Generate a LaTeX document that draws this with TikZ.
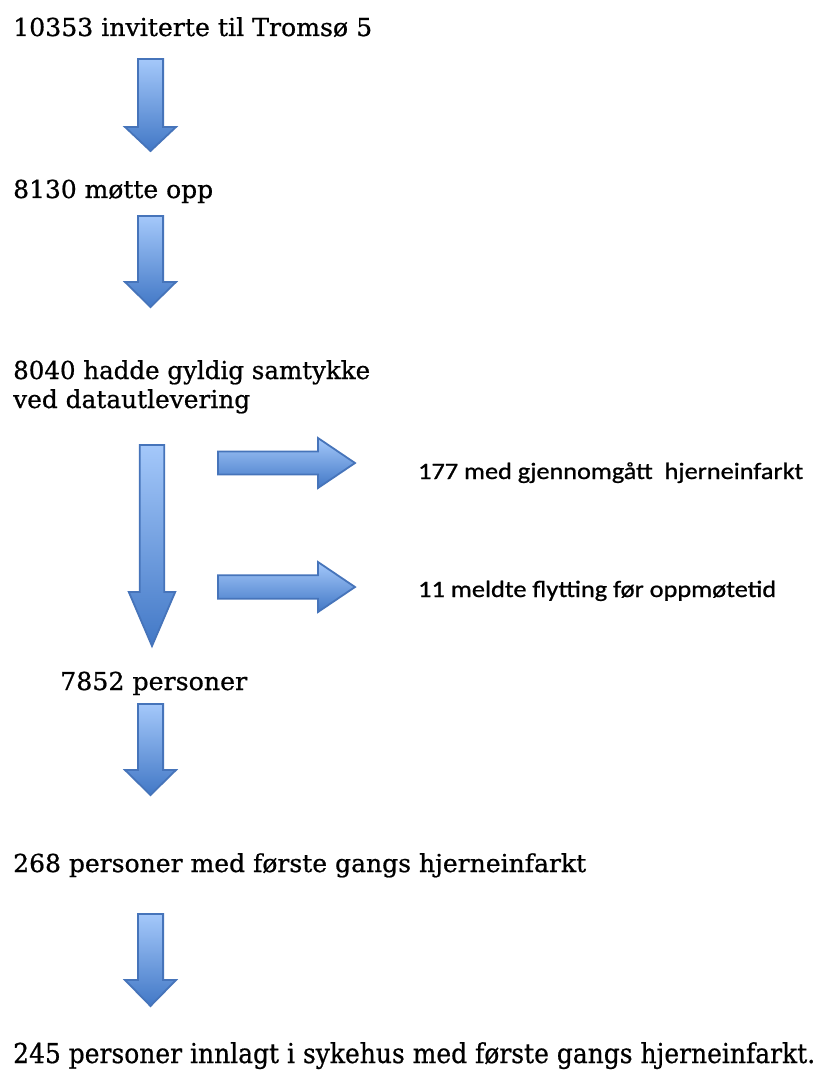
\documentclass[tikz,border=0pt]{standalone}
\usepackage{fontspec}
\setmainfont{DejaVu Serif}[FakeBold=0.7]
\newfontfamily\calfont{Carlito}[FakeBold=0.8]
\usepackage{graphicx}
\definecolor{arrowtop}{RGB}{164,200,250}
\definecolor{arrowbottom}{RGB}{66,120,198}
\definecolor{arrowedge}{RGB}{70,116,186}
\tikzset{
  blockarrow/.style={draw=arrowedge, line width=1.8pt, line join=miter,
    top color=arrowtop, bottom color=arrowbottom},
  lbl/.style={anchor=base west, inner sep=0pt, text=black},
}
% width-fitted text: #1 target width (pt), #2 text
\newcommand\fitw[2]{\resizebox{#1pt}{\height}{#2}}
% down block arrow: cx, top, head start, tip, half shaft, half head
\newcommand\downblock[6]{%
  \path[blockarrow] ({#1-#5},#2) -- ({#1+#5},#2) -- ({#1+#5},#3) -- ({#1+#6},#3)
    -- (#1,#4) -- ({#1-#6},#3) -- ({#1-#5},#3) -- cycle;}
% right block arrow: x0, x1 (head start), tip, cy, half shaft, half head
\newcommand\rightblock[6]{%
  \path[blockarrow] (#1,{#4-#5}) -- (#2,{#4-#5}) -- (#2,{#4-#6}) -- (#3,#4)
    -- (#2,{#4+#6}) -- (#2,{#4+#5}) -- (#1,{#4+#5}) -- cycle;}
\begin{document}
\begin{tikzpicture}[x=1pt,y=-1pt]
  \useasboundingbox[fill=white] (0,0) rectangle (816,1075);

  % texts
  \node[lbl] (t1) at (13,36) {\fontsize{24.7}{29}\selectfont\fitw{359}{10353 inviterte til Tromsø 5}};
  \node[lbl] (t2) at (13,198) {\fontsize{24.7}{29}\selectfont\fitw{200}{8130 møtte opp}};
  \node[lbl] (t3a) at (13,379) {\fontsize{24.7}{29}\selectfont\fitw{357}{8040 hadde gyldig samtykke}};
  \node[lbl] (t3b) at (13,408) {\fontsize{24.7}{29}\selectfont\fitw{237}{ved datautlevering}};
  \node[lbl] (e1) at (418,479) {\calfont\fontsize{23.5}{28}\selectfont\fitw{385}{177 med gjennomgått\ \ hjerneinfarkt}};
  \node[lbl] (e2) at (418,597) {\calfont\fontsize{23.5}{28}\selectfont\fitw{358}{11 meldte flytting før oppmøtetid}};
  \node[lbl] (t4) at (60,690) {\fontsize{24.7}{29}\selectfont\fitw{187}{7852 personer}};
  \node[lbl] (t5) at (13,872) {\fontsize{24.7}{29}\selectfont\fitw{573}{268 personer med første gangs hjerneinfarkt}};
  \node[lbl] (t6) at (13,1063) {\fontsize{27.4}{32}\selectfont\fitw{802}{245 personer innlagt i sykehus med første gangs hjerneinfarkt.}};

  % block arrows
  \downblock{150.5}{59}{127}{151}{12.6}{25.5}
  \downblock{150.5}{216}{282}{307}{12.6}{25.5}
  \downblock{152}{445}{592}{646}{12.2}{23.2}
  \downblock{150.5}{704}{770}{795}{12.6}{25.5}
  \downblock{150.5}{914}{980}{1006}{12.6}{25.5}
  \rightblock{218}{318}{355}{463}{11.5}{25}
  \rightblock{218}{318}{355}{587}{11.8}{25}
\end{tikzpicture}
\end{document}
